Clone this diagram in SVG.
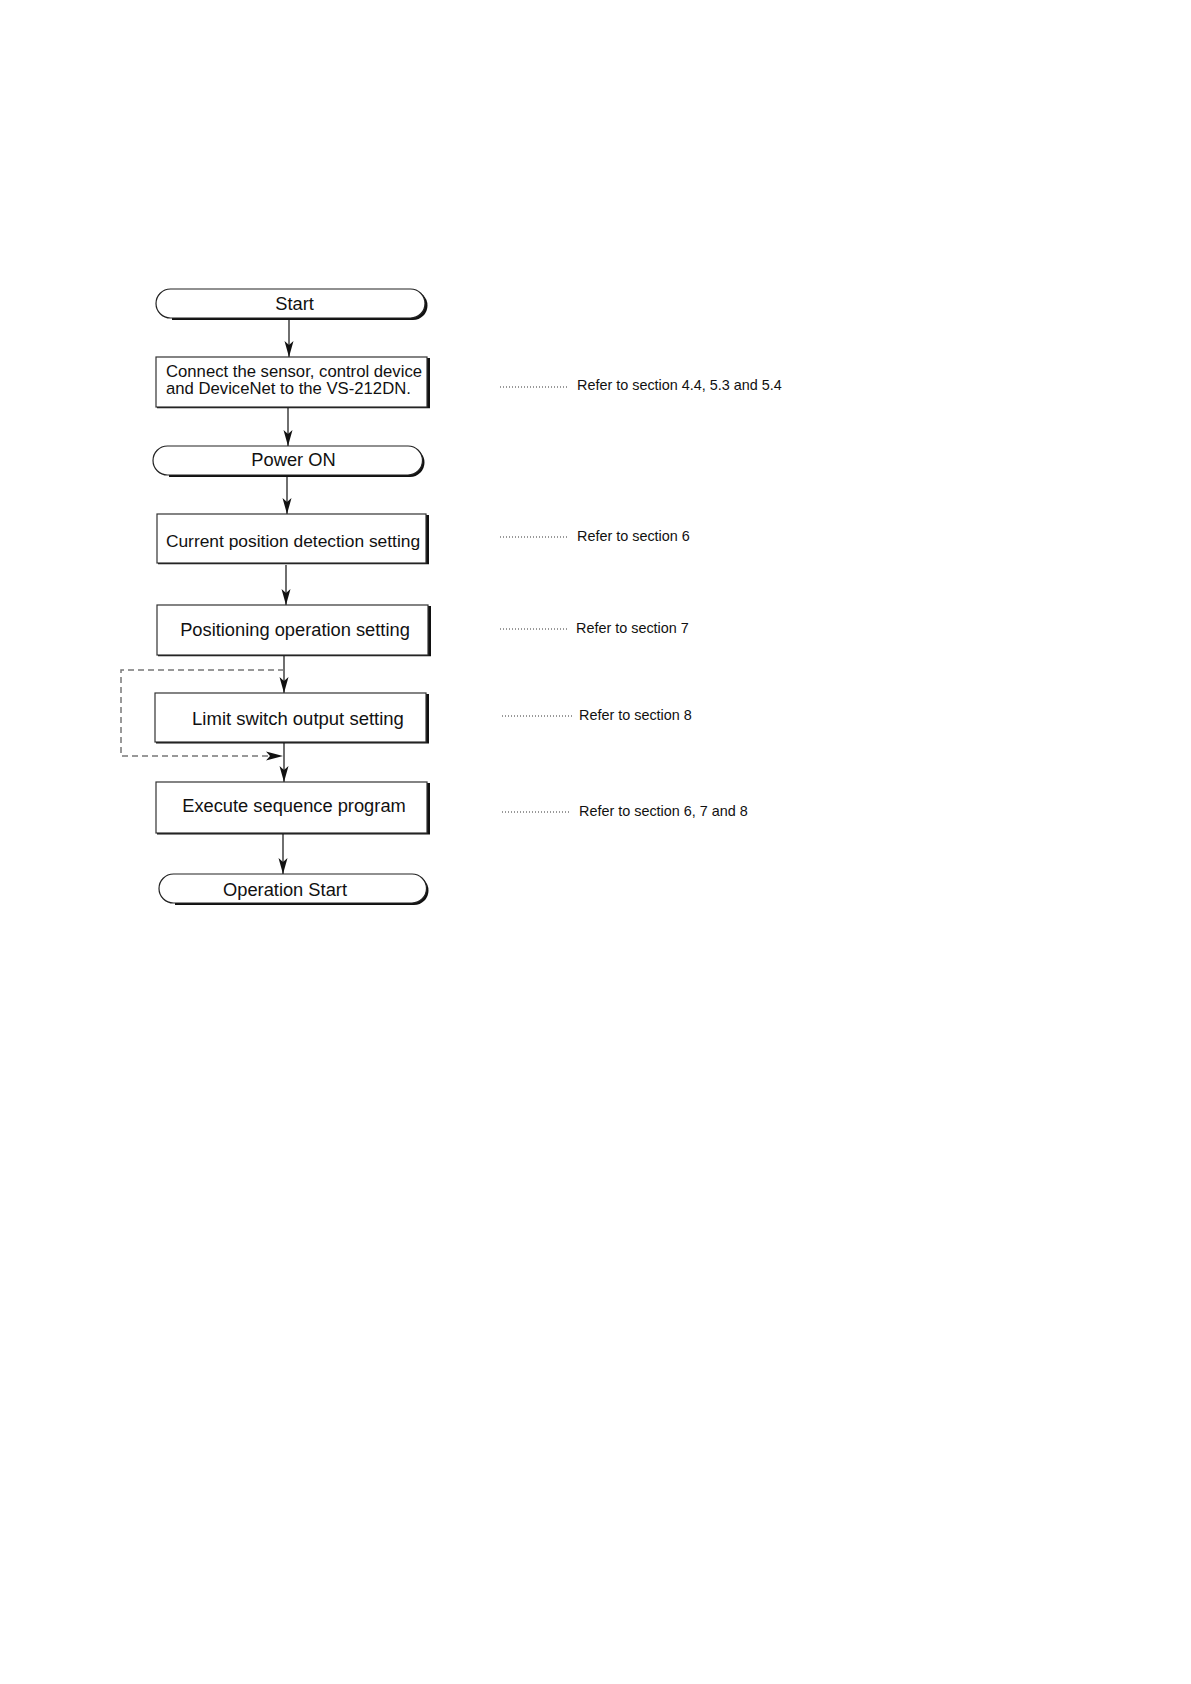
<svg xmlns="http://www.w3.org/2000/svg" width="1191" height="1684" viewBox="0 0 1191 1684">
<style>
  .lbl { font-family: "Liberation Sans", Arial, sans-serif; fill: #111; }
  .ref { font-family: "Liberation Sans", Arial, sans-serif; font-size: 14.4px; fill: #111; }
  .box { fill: #fff; stroke: #333; stroke-width: 1.2; }
  .shadow { fill: none; stroke: #111; }
  .term { fill: #fff; stroke: #222; stroke-width: 1.2; }
  .termsh { fill: #111; }
  .flow { stroke: #222; stroke-width: 1.3; fill: none; }
  .dash { stroke: #777; stroke-width: 1.5; fill: none; stroke-dasharray: 6 4; }
  .dots { stroke: #333; stroke-width: 1; stroke-dasharray: 1 2; }
</style>
<defs>
  <marker id="ah" markerUnits="userSpaceOnUse" markerWidth="18" markerHeight="12" viewBox="-17 -6 18 12" refX="0" refY="0" orient="auto">
    <path d="M0,0 L-16,-4.5 L-12,0 L-16,4.5 Z" fill="#111"/>
  </marker>
</defs>
<rect width="1191" height="1684" fill="#fff"/>

<g id="connectors">
  <line class="flow" x1="289" y1="319" x2="289" y2="357" marker-end="url(#ah)"/>
  <line class="flow" x1="288" y1="408" x2="288" y2="446" marker-end="url(#ah)"/>
  <line class="flow" x1="287" y1="477" x2="287" y2="514" marker-end="url(#ah)"/>
  <line class="flow" x1="286" y1="565" x2="286" y2="605" marker-end="url(#ah)"/>
  <line class="flow" x1="284" y1="656" x2="284" y2="693" marker-end="url(#ah)"/>
  <line class="flow" x1="284" y1="743" x2="284" y2="782" marker-end="url(#ah)"/>
  <line class="flow" x1="283" y1="834" x2="283" y2="874" marker-end="url(#ah)"/>
  <path class="dash" d="M284,670 H121 V756 H270"/>
  <path d="M283,756 L266,751.5 L270,756 L266,760.5 Z" fill="#111"/>
</g>

<g id="start">
  <path class="termsh" d="M172,291 H413 A14.5,14.5 0 0 1 413,320 H172 Z"/>
  <path class="term" d="M170.5,289 H410.5 A14.5,14.5 0 0 1 410.5,318 H170.5 A14.5,14.5 0 0 1 170.5,289 Z"/>
  <text class="lbl" style="font-size:18.3px" x="294.5" y="310" text-anchor="middle">Start</text>
</g>

<g id="connect">
  <polyline class="shadow" stroke-width="3" points="428.5,358 428.5,408"/>
  <polyline class="shadow" stroke-width="1.5" points="157,407.5 430,407.5"/>
  <rect class="box" x="156" y="357" width="271" height="50"/>
  <text class="lbl" style="font-size:16.7px" x="166" y="377">Connect the sensor, control device</text>
  <text class="lbl" style="font-size:16.7px" x="166" y="394">and DeviceNet to the VS-212DN.</text>
</g>

<g id="power">
  <path class="termsh" d="M169,448 H410 A14.5,14.5 0 0 1 410,477 H169 Z"/>
  <path class="term" d="M167.5,446 H408 A14.5,14.5 0 0 1 408,475 H167.5 A14.5,14.5 0 0 1 167.5,446 Z"/>
  <text class="lbl" style="font-size:18.3px" x="293.5" y="466" text-anchor="middle">Power ON</text>
</g>

<g id="current">
  <polyline class="shadow" stroke-width="3" points="427.5,515 427.5,564"/>
  <polyline class="shadow" stroke-width="1.5" points="158,563.5 429,563.5"/>
  <rect class="box" x="157" y="514" width="269" height="49"/>
  <text class="lbl" style="font-size:17.4px" x="293" y="547" text-anchor="middle">Current position detection setting</text>
</g>

<g id="positioning">
  <polyline class="shadow" stroke-width="3" points="429.5,606 429.5,656"/>
  <polyline class="shadow" stroke-width="1.5" points="158,655.5 431,655.5"/>
  <rect class="box" x="157" y="605" width="271" height="50"/>
  <text class="lbl" style="font-size:18.3px" x="295" y="636" text-anchor="middle">Positioning operation setting</text>
</g>

<g id="limit">
  <polyline class="shadow" stroke-width="3" points="427.5,694 427.5,743"/>
  <polyline class="shadow" stroke-width="2" points="156,742.5 429,742.5"/>
  <rect class="box" x="155" y="693" width="271" height="49"/>
  <text class="lbl" style="font-size:18.5px" x="298" y="725" text-anchor="middle">Limit switch output setting</text>
</g>

<g id="execute">
  <polyline class="shadow" stroke-width="3" points="428.5,783 428.5,834"/>
  <polyline class="shadow" stroke-width="2" points="157,833.5 430,833.5"/>
  <rect class="box" x="156" y="782" width="271" height="51"/>
  <text class="lbl" style="font-size:18.3px" x="294" y="812" text-anchor="middle">Execute sequence program</text>
</g>

<g id="opstart">
  <path class="termsh" d="M175,876 H414 A14.5,14.5 0 0 1 414,905 H175 Z"/>
  <path class="term" d="M173.5,874 H412 A14.5,14.5 0 0 1 412,903 H173.5 A14.5,14.5 0 0 1 173.5,874 Z"/>
  <text class="lbl" style="font-size:18.3px" x="285" y="896" text-anchor="middle">Operation Start</text>
</g>

<g id="refs">
  <line class="dots" x1="500" y1="387" x2="568" y2="387"/>
  <text class="ref" x="577" y="390">Refer to section 4.4, 5.3 and 5.4</text>
  <line class="dots" x1="500" y1="537" x2="568" y2="537"/>
  <text class="ref" x="577" y="541">Refer to section 6</text>
  <line class="dots" x1="500" y1="629" x2="568" y2="629"/>
  <text class="ref" x="576" y="633">Refer to section 7</text>
  <line class="dots" x1="502" y1="716" x2="572" y2="716"/>
  <text class="ref" x="579" y="720">Refer to section 8</text>
  <line class="dots" x1="502" y1="812" x2="571" y2="812"/>
  <text class="ref" x="579" y="816">Refer to section 6, 7 and 8</text>
</g>
</svg>
